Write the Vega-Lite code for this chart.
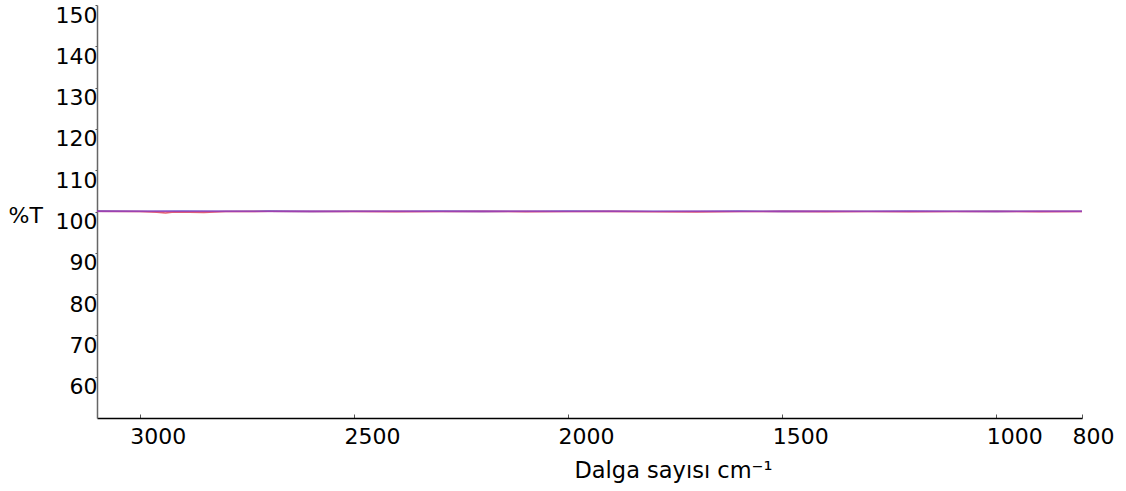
{
  "$schema": "https://vega.github.io/schema/vega-lite/v6.json",
  "width": 985,
  "height": 413,
  "autosize": {"type": "none"},
  "padding": {"left": 97, "top": 5, "right": 44, "bottom": 73},
  "background": "white",
  "config": {"view": {"stroke": null}, "font": "DejaVu Sans"},
  "data": {"values": [
    {"wn": 3100, "T": 100.05, "s": "A"}, {"wn": 3000, "T": 100.0, "s": "A"}, {"wn": 2960, "T": 99.85, "s": "A"}, {"wn": 2940, "T": 99.65, "s": "A"}, {"wn": 2920, "T": 99.9, "s": "A"}, {"wn": 2850, "T": 99.8, "s": "A"}, {"wn": 2800, "T": 100.0, "s": "A"}, {"wn": 2700, "T": 100.05, "s": "A"}, {"wn": 2600, "T": 100.0, "s": "A"}, {"wn": 2500, "T": 100.02, "s": "A"}, {"wn": 2400, "T": 99.98, "s": "A"}, {"wn": 2300, "T": 100.0, "s": "A"}, {"wn": 2200, "T": 100.03, "s": "A"}, {"wn": 2100, "T": 99.97, "s": "A"}, {"wn": 2000, "T": 100.0, "s": "A"}, {"wn": 1900, "T": 100.02, "s": "A"}, {"wn": 1800, "T": 99.95, "s": "A"}, {"wn": 1700, "T": 99.9, "s": "A"}, {"wn": 1600, "T": 100.0, "s": "A"}, {"wn": 1500, "T": 100.02, "s": "A"}, {"wn": 1400, "T": 99.97, "s": "A"}, {"wn": 1300, "T": 100.0, "s": "A"}, {"wn": 1200, "T": 99.95, "s": "A"}, {"wn": 1100, "T": 100.0, "s": "A"}, {"wn": 1000, "T": 100.02, "s": "A"}, {"wn": 900, "T": 99.98, "s": "A"}, {"wn": 800, "T": 100.0, "s": "A"},
    {"wn": 3100, "T": 100.08, "s": "B"}, {"wn": 3000, "T": 100.05, "s": "B"}, {"wn": 2900, "T": 100.1, "s": "B"}, {"wn": 2800, "T": 100.05, "s": "B"}, {"wn": 2700, "T": 100.08, "s": "B"}, {"wn": 2600, "T": 100.03, "s": "B"}, {"wn": 2500, "T": 100.07, "s": "B"}, {"wn": 2400, "T": 100.05, "s": "B"}, {"wn": 2300, "T": 100.08, "s": "B"}, {"wn": 2200, "T": 100.04, "s": "B"}, {"wn": 2100, "T": 100.06, "s": "B"}, {"wn": 2000, "T": 100.1, "s": "B"}, {"wn": 1900, "T": 100.05, "s": "B"}, {"wn": 1800, "T": 100.07, "s": "B"}, {"wn": 1700, "T": 100.05, "s": "B"}, {"wn": 1600, "T": 100.08, "s": "B"}, {"wn": 1500, "T": 100.04, "s": "B"}, {"wn": 1400, "T": 100.06, "s": "B"}, {"wn": 1300, "T": 100.05, "s": "B"}, {"wn": 1200, "T": 100.08, "s": "B"}, {"wn": 1100, "T": 100.05, "s": "B"}, {"wn": 1000, "T": 100.03, "s": "B"}, {"wn": 900, "T": 100.07, "s": "B"}, {"wn": 800, "T": 100.05, "s": "B"},
    {"wn": 3100, "T": 100.03, "s": "C"}, {"wn": 3000, "T": 100.02, "s": "C"}, {"wn": 2900, "T": 100.0, "s": "C"}, {"wn": 2800, "T": 100.03, "s": "C"}, {"wn": 2700, "T": 100.0, "s": "C"}, {"wn": 2600, "T": 100.04, "s": "C"}, {"wn": 2500, "T": 100.01, "s": "C"}, {"wn": 2400, "T": 100.03, "s": "C"}, {"wn": 2300, "T": 100.0, "s": "C"}, {"wn": 2200, "T": 100.02, "s": "C"}, {"wn": 2100, "T": 100.04, "s": "C"}, {"wn": 2000, "T": 100.0, "s": "C"}, {"wn": 1900, "T": 100.03, "s": "C"}, {"wn": 1800, "T": 100.01, "s": "C"}, {"wn": 1700, "T": 100.02, "s": "C"}, {"wn": 1600, "T": 100.0, "s": "C"}, {"wn": 1500, "T": 100.03, "s": "C"}, {"wn": 1400, "T": 100.02, "s": "C"}, {"wn": 1300, "T": 100.0, "s": "C"}, {"wn": 1200, "T": 100.03, "s": "C"}, {"wn": 1100, "T": 100.01, "s": "C"}, {"wn": 1000, "T": 100.0, "s": "C"}, {"wn": 900, "T": 100.02, "s": "C"}, {"wn": 800, "T": 100.03, "s": "C"}
  ]},
  "mark": {"type": "line", "strokeWidth": 1.6, "opacity": 0.75, "clip": true},
  "encoding": {
    "x": {
      "field": "wn", "type": "quantitative",
      "scale": {"domain": [3100, 800], "nice": false, "zero": false},
      "axis": {
        "values": [3000, 2500, 2000, 1500, 1000, 800],
        "format": "d",
        "title": "Dalga sayısı cm⁻¹",
        "titleFontSize": 22.5, "titleFontWeight": "normal", "titleColor": "black",
        "titleAnchor": "start", "titleAlign": "left", "titleX": 477, "titleY": 59, "titleBaseline": "alphabetic",
        "labelFontSize": 22, "labelColor": "black", "labelAlign": "left", "labelOffset": -10,
        "labelFlush": false, "labelBound": false, "labelOverlap": false,
        "labelPadding": 12, "labelBaseline": "top",
        "tickSize": -4, "tickColor": "#555", "domainColor": "black", "domainWidth": 1.5,
        "grid": false
      }
    },
    "y": {
      "field": "T", "type": "quantitative",
      "scale": {"domain": [50, 150], "nice": false, "zero": false},
      "axis": {
        "values": [60, 70, 80, 90, 100, 110, 120, 130, 140, 150],
        "format": "d",
        "title": "%T", "titleAngle": 0, "titleFontSize": 22, "titleFontWeight": "normal", "titleColor": "black",
        "titleAlign": "left", "titleBaseline": "alphabetic", "titleX": -89, "titleY": 217,
        "labelFontSize": 22, "labelColor": "black", "labelBaseline": "middle", "labelOffset": 10,
        "labelFlush": false, "labelBound": false, "labelOverlap": false,
        "labelPadding": -2, "tickSize": 2, "tickColor": "#555",
        "domainColor": "#666", "domainWidth": 1.5, "grid": false
      }
    },
    "color": {
      "field": "s", "type": "nominal",
      "scale": {"domain": ["A", "B", "C"], "range": ["#e0303c", "#3c3cc8", "#b040b0"]},
      "legend": null
    }
  }
}
